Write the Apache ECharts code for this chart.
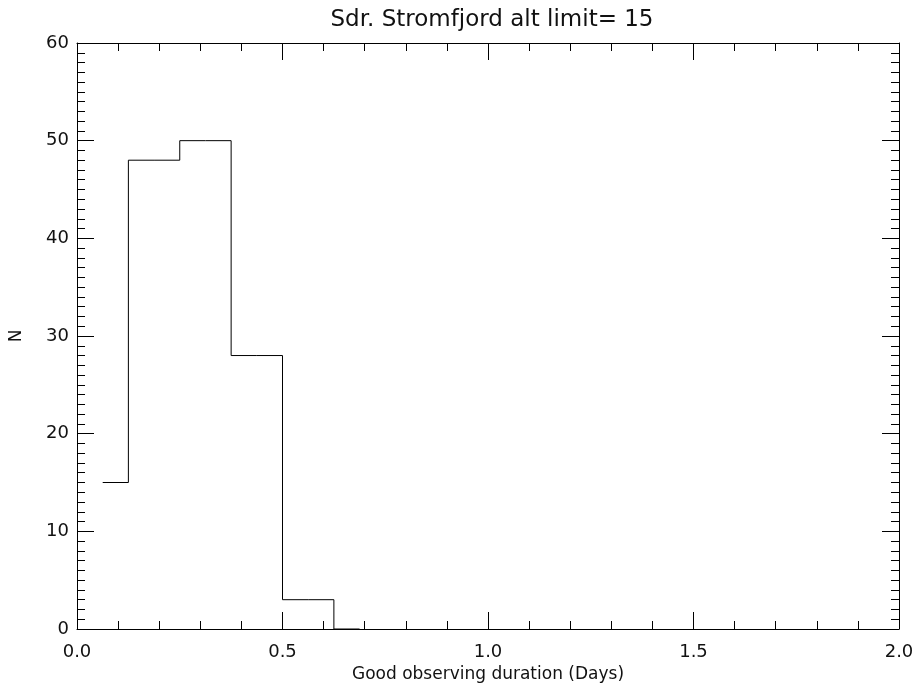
<!DOCTYPE html>
<html>
<head>
<meta charset="utf-8">
<script src="https://cdn.jsdelivr.net/npm/echarts@6/dist/echarts.min.js"></script>
<style>
html,body{margin:0;padding:0;background:#fff;}
#chart{width:917px;height:694px;}
</style>
</head>
<body>
<div id="chart"></div>
<script>
var titleText = "Sdr. Stromfjord alt limit= 15";
var xAxisName = "Good observing duration (Days)";
var yAxisName = "N";
var binCenters = [0.0625, 0.1875, 0.3125, 0.4375, 0.5625, 0.6875];
var counts = [15, 48, 50, 28, 3, 0];
var xTickLabels = ["0.0", "0.5", "1.0", "1.5", "2.0"];
var yTickLabels = ["0", "10", "20", "30", "40", "50", "60"];

var FONT = "'DejaVu Sans ExtraLight', 'DejaVu Sans'";
var chart = echarts.init(document.getElementById('chart'), null, {renderer: 'canvas'});
var data = binCenters.map(function (c, i) { return [c, counts[i]]; });

function axisCommon(extra) {
  var base = {
    axisLine: {show: true, onZero: false, lineStyle: {color: '#000', width: 1}},
    axisTick: {show: true, inside: true, length: 17, lineStyle: {color: '#000', width: 1}},
    splitLine: {show: false},
    minorSplitLine: {show: false}
  };
  return Object.assign(base, extra);
}

var option = {
  animation: false,
  backgroundColor: '#fff',
  title: {
    text: titleText, left: 487, top: 4, textAlign: 'center',
    textStyle: {fontFamily: FONT, fontSize: 23, fontWeight: 'normal', color: '#111'}
  },
  grid: {left: 76, right: 18, top: 43, bottom: 65, containLabel: false},
  xAxis: [
    axisCommon({
      type: 'value', min: 0, max: 2, interval: 0.5, position: 'bottom',
      minorTick: {show: true, splitNumber: 5, length: 8, lineStyle: {color: '#000', width: 1}},
      axisLabel: {
        margin: 14, fontFamily: FONT, fontSize: 18, color: '#111',
        formatter: function (v) { return xTickLabels[Math.round(v / 0.5)]; }
      },
      name: xAxisName, nameLocation: 'middle', nameGap: 37,
      nameTextStyle: {fontFamily: FONT, fontSize: 17, color: '#111'}
    }),
    axisCommon({
      type: 'value', min: 0, max: 2, interval: 0.5, position: 'top',
      minorTick: {show: true, splitNumber: 5, length: 8, lineStyle: {color: '#000', width: 1}},
      axisLabel: {show: false}
    })
  ],
  yAxis: [
    axisCommon({
      type: 'value', min: 0, max: 60, interval: 10, position: 'left',
      minorTick: {show: true, splitNumber: 10, length: 8, lineStyle: {color: '#000', width: 1}},
      axisLabel: {
        margin: 8, fontFamily: FONT, fontSize: 18, color: '#111',
        formatter: function (v) { return yTickLabels[Math.round(v / 10)]; }
      },
      name: yAxisName, nameLocation: 'middle', nameGap: 52, nameRotate: 90,
      nameTextStyle: {fontFamily: FONT, fontSize: 17, color: '#111'}
    }),
    axisCommon({
      type: 'value', min: 0, max: 60, interval: 10, position: 'right',
      minorTick: {show: true, splitNumber: 10, length: 8, lineStyle: {color: '#000', width: 1}},
      axisLabel: {show: false}
    })
  ],
  series: [{
    type: 'line', step: 'middle', data: data, xAxisIndex: 0, yAxisIndex: 0,
    showSymbol: false, symbol: 'none',
    lineStyle: {color: '#000', width: 1}
  }]
};
chart.setOption(option);
</script>
</body>
</html>
